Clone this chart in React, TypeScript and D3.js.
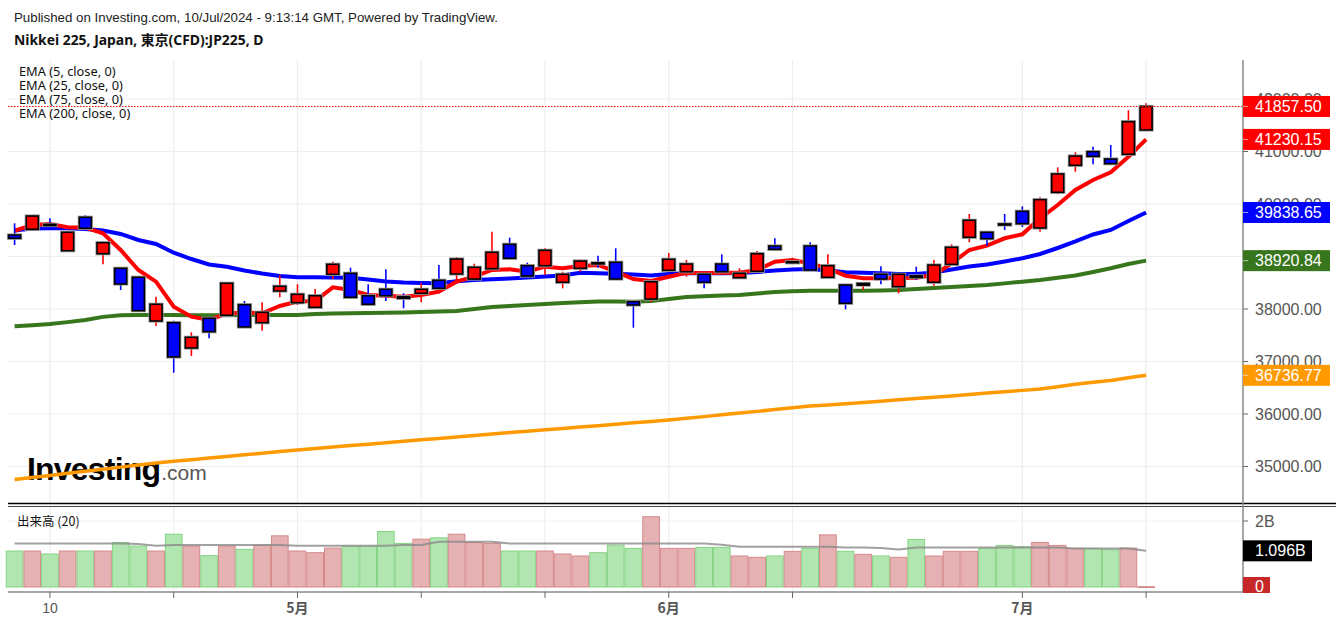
import React from 'react';
import * as d3 from 'd3';

// ---- data ----
const opens = [39410,39518,39612,39111,39747,39053,38775,38604,37771,37739,37257,37823,37880,38082,37739,38343,38120,38032,38661,38680,38253,38375,38234,38299,38547,38667,38571,38768,39232,38825,38825,38509,38775,38880,38890,38139,38190,38737,38710,38661,38857,38596,38718,39200,38880,39200,38604,38457,38455,38661,38425,38630,38509,38851,39366,39461,39620,39861,39543,40223,40737,40996,40857,40947,41410];
const highs = [39632,39785,39727,39486,39785,39276,38790,38610,38234,37777,37556,37853,38500,38152,38128,38642,38470,38381,38901,38787,38470,38756,38299,38490,38838,38985,38863,39473,39358,38882,39156,38710,38939,39015,39156,38145,38525,39067,38933,38665,39042,38775,39105,39347,38977,39271,39042,38460,38490,38813,38670,38806,38933,39232,39810,39465,39810,39956,40128,40699,40985,41091,41124,41785,41918];
const lows = [39219,39505,39537,39092,39486,38851,38362,37960,37676,36787,37105,37442,37875,37650,37587,38223,38076,38000,38571,38190,38085,38152,38013,38128,38390,38552,38565,38760,38960,38625,38648,38394,38710,38787,38565,37644,38128,38730,38615,38394,38705,38590,38712,39105,38870,38740,38600,37994,38362,38470,38299,38552,38444,38845,39271,39206,39505,39562,39473,40185,40615,40756,40760,40940,41400];
const closes = [39347,39771,39590,39461,39537,39263,38476,37968,38090,37086,37461,37568,38490,37657,37937,38432,38280,38253,38851,38223,38090,38253,38204,38375,38394,38952,38794,39080,38966,38629,39118,38661,38914,38860,38571,38076,38520,38947,38857,38509,38710,38680,39053,39137,38900,38743,38825,38109,38485,38571,38661,38600,38838,39175,39690,39339,39600,39625,40082,40572,40914,40908,40768,41568,41857.5];

const ema5 = [39491,39600,39619,39556,39549,39442,39124,38743,38520,38044,37853,37790,37918,37930,37918,38057,38143,38152,38413,38362,38267,38253,38234,38267,38330,38520,38615,38743,38756,38710,38806,38775,38819,38838,38710,38571,38533,38615,38691,38680,38691,38691,38743,38901,38933,38870,38775,38634,38585,38585,38590,38596,38648,38870,39124,39206,39347,39423,39728,39981,40267,40457,40604,40901,41230.15];
const ema25 = [39495,39533,39537,39537,39524,39495,39429,39314,39238,39072,38952,38848,38806,38733,38676,38629,38604,38604,38600,38596,38562,38524,38505,38495,38490,38530,38552,38566,38581,38600,38619,38638,38691,38682,38670,38657,38638,38667,38680,38680,38680,38686,38705,38733,38752,38762,38733,38701,38691,38680,38667,38667,38695,38752,38810,38848,38905,38966,39048,39162,39286,39419,39505,39676,39838.65];
const ema75 = [37670,37690,37714,37750,37790,37850,37880,37886,37886,37884,37882,37880,37882,37884,37884,37886,37888,37905,37912,37918,37924,37928,37933,37942,37952,37962,38000,38038,38056,38075,38095,38112,38128,38143,38143,38140,38150,38190,38229,38242,38255,38267,38295,38324,38340,38349,38349,38347,38349,38352,38360,38380,38400,38420,38440,38457,38488,38520,38552,38595,38638,38705,38775,38857,38920.84];
const ema200 = [34752,34790,34830,34870,34908,34948,34988,35027,35067,35098,35128,35160,35190,35222,35253,35284,35314,35342,35370,35398,35425,35452,35480,35508,35535,35562,35590,35619,35646,35672,35698,35725,35752,35778,35805,35832,35858,35886,35918,35950,35985,36018,36050,36085,36118,36152,36170,36195,36220,36245,36270,36295,36320,36345,36372,36398,36424,36450,36476,36520,36565,36605,36640,36690,36736.77];

// volume in billions
const volumes = [1.09,1.09,1.00,1.09,1.09,1.09,1.35,1.24,1.09,1.60,1.24,0.95,1.24,1.14,1.27,1.55,1.09,1.04,1.18,1.24,1.24,1.68,1.32,1.45,1.49,1.60,1.35,1.32,1.09,1.09,1.09,1.00,0.94,1.04,1.27,1.17,2.13,1.17,1.17,1.20,1.20,0.94,0.90,0.94,1.08,1.17,1.58,1.08,0.99,0.94,0.90,1.44,0.94,1.08,1.08,1.17,1.26,1.22,1.35,1.26,1.17,1.17,1.13,1.18,0.01];
const volSide = ['g','r','g','r','g','r','g','g','r','g','r','g','r','g','r','r','r','r','r','g','g','g','g','r','g','r','r','r','g','g','r','r','r','g','g','g','r','r','r','g','g','r','r','g','r','g','r','g','r','g','r','g','r','r','r','g','g','g','r','r','r','g','g','r','r'];
const volMA = [1.32,1.32,1.32,1.32,1.32,1.32,1.32,1.30,1.25,1.27,1.27,1.27,1.27,1.27,1.27,1.27,1.25,1.25,1.25,1.25,1.25,1.25,1.27,1.27,1.37,1.37,1.37,1.37,1.32,1.32,1.32,1.32,1.32,1.32,1.32,1.32,1.32,1.32,1.32,1.32,1.28,1.22,1.22,1.22,1.22,1.22,1.22,1.20,1.20,1.18,1.14,1.20,1.20,1.20,1.20,1.20,1.20,1.20,1.20,1.20,1.17,1.17,1.17,1.17,1.10];

const priceTicks = [35000,36000,37000,38000,39000,40000,41000,42000];
const xTickIdx = [2,9,16,23,30,37,44,57,64];
const xTickLabels = ['10','','5月','','','6月','','7月',''];
const legendItems = ['EMA (5, close, 0)','EMA (25, close, 0)','EMA (75, close, 0)','EMA (200, close, 0)'];

const COL = { up: '#ff0000', down: '#0000ff', e5: '#ff0000', e25: '#0000ff', e75: '#38761d', e200: '#ff9900' };

export default function App() {
  const W = 1336, H = 626;
  const left = 8, right = 1243;
  const mainTop = 60, mainBottom = 503;
  const volTop = 507, axisY = 592;
  const n = closes.length;
  const idx = d3.range(n);

  const x = d3.scaleLinear().domain([0, 64]).range([14.6, 1146.1]);
  const y = d3.scaleLinear().domain([35000, 42000]).range([466.5, 99]);
  const yv = d3.scaleLinear().domain([0, 2]).range([587, 521]);

  const lineGen = (arr: number[]) => d3.line<number>().x((_, i) => x(i)).y(d => y(d))(arr) || '';
  const volLine = d3.line<number>().x((_, i) => x(i)).y(d => yv(d))(volMA) || '';

  const bodyW = 12;
  const volW = x(1) - x(0) - 1;
  const font = "'Liberation Sans', Arial, sans-serif";

  const lastLabels = [
    { v: closes[n - 1], c: COL.up, t: '41857.50' },
    { v: ema5[n - 1], c: COL.e5, t: '41230.15' },
    { v: ema25[n - 1], c: COL.e25, t: '39838.65' },
    { v: ema75[n - 1], c: COL.e75, t: '38920.84' },
    { v: ema200[n - 1], c: COL.e200, t: '36736.77' },
  ];

  return (
    <svg width={W} height={H} style={{ position: 'absolute', left: 0, top: 0, background: '#fff' }} fontFamily={font}>
      <rect x={0} y={0} width={W} height={H} fill="#fff" />
      {/* header */}
      <text x={14} y={22} fontSize={13.3} fill="#222">Published on Investing.com, 10/Jul/2024 - 9:13:14 GMT, Powered by TradingView.</text>
      <text x={14} y={45} fontSize={13.9} fontWeight="bold" fill="#111" fontFamily="'Noto Sans', 'Noto Sans CJK JP', sans-serif">Nikkei 225, Japan, 東京(CFD):JP225, D</text>

      {/* grid */}
      {priceTicks.map(t => (
        <line key={'hg' + t} x1={left} x2={right} y1={y(t)} y2={y(t)} stroke="#eeeeee" strokeWidth={1.2} />
      ))}
      {xTickIdx.map(i => (
        <g key={'vg' + i}>
          <line x1={x(i)} x2={x(i)} y1={mainTop} y2={mainBottom} stroke="#eeeeee" strokeWidth={1.2} />
          <line x1={x(i)} x2={x(i)} y1={volTop} y2={axisY} stroke="#eeeeee" strokeWidth={1.2} />
        </g>
      ))}
      <line x1={left} x2={right} y1={yv(2)} y2={yv(2)} stroke="#f0f0f0" />

      {/* Investing logo */}
      <text x={27} y={480} fontSize={32} fontWeight="bold" fill="#000" letterSpacing={-0.8}>Investing<tspan fontSize={21} fontWeight="normal" fill="#555" letterSpacing={0} dx={1}>.com</tspan></text>

      {/* EMA lines */}
      <path d={lineGen(ema200)} fill="none" stroke={COL.e200} strokeWidth={3.5} />
      <path d={lineGen(ema75)} fill="none" stroke={COL.e75} strokeWidth={4} />
      <path d={lineGen(ema25)} fill="none" stroke={COL.e25} strokeWidth={4} />
      <path d={lineGen(ema5)} fill="none" stroke={COL.e5} strokeWidth={4} />

      {/* candles */}
      {idx.map(i => {
        const up = closes[i] >= opens[i];
        const c = up ? COL.up : COL.down;
        const top = y(Math.max(opens[i], closes[i]));
        const bot = y(Math.min(opens[i], closes[i]));
        const h = Math.max(bot - top, 1);
        return (
          <g key={'c' + i}>
            <line x1={x(i)} x2={x(i)} y1={y(highs[i])} y2={y(lows[i])} stroke={c} strokeWidth={1.6} />
            <rect x={x(i) - bodyW / 2 - 1} y={top - 1} width={bodyW + 2} height={h + 2} fill="none" stroke="#9a9a9a" strokeWidth={1.2} />
            <rect x={x(i) - bodyW / 2} y={top} width={bodyW} height={h} fill={c} stroke="#000" strokeWidth={1.6} />
          </g>
        );
      })}

      {/* last price dotted line */}
      <line x1={left} x2={right} y1={y(closes[n - 1])} y2={y(closes[n - 1])} stroke="#ff0000" strokeWidth={1} strokeDasharray="1.5,1.5" />

      {/* legend */}
      {legendItems.map((t, k) => (
        <text key={t} x={19} y={76 + k * 14} fontSize={12.8} fill="#111" fontFamily="'Noto Sans', sans-serif">{t}</text>
      ))}

      {/* panel separator */}
      <line x1={left} x2={W} y1={503.5} y2={503.5} stroke="#000" strokeWidth={1.5} />
      <line x1={left} x2={W} y1={506.5} y2={506.5} stroke="#444" strokeWidth={1} />

      {/* volume */}
      <text x={17} y={526} fontSize={12.5} fill="#111" fontFamily="'Noto Sans CJK JP', sans-serif">出来高 (20)</text>
      {idx.map(i => {
        const g = volSide[i] === 'g';
        return (
          <rect key={'v' + i} x={x(i) - volW / 2} y={yv(volumes[i])} width={volW} height={Math.max(yv(0) - yv(volumes[i]), 0.8)}
            fill={g ? '#b2e6b0' : '#e6b1b2'} stroke={g ? '#86d384' : '#d68a8b'} strokeWidth={1} />
        );
      })}
      <path d={volLine} fill="none" stroke="#8a8a8a" strokeOpacity={0.8} strokeWidth={2} />

      {/* x axis */}
      <line x1={left} x2={right} y1={axisY} y2={axisY} stroke="#888" strokeWidth={1.5} />
      {xTickIdx.map((i, k) => (
        <g key={'xt' + i}>
          <line x1={x(i)} x2={x(i)} y1={axisY} y2={axisY + 6} stroke="#666" strokeWidth={1} />
          {xTickLabels[k] && (
            <text x={x(i)} y={613} textAnchor="middle" fontSize={14} fill="#555"
              fontWeight={xTickLabels[k] === '10' ? 'normal' : 'bold'}
              fontFamily={xTickLabels[k] === '10' ? font : "'Noto Sans CJK JP', sans-serif"}>{xTickLabels[k]}</text>
          )}
        </g>
      ))}

      {/* right axis */}
      <line x1={right} x2={right} y1={mainTop} y2={axisY} stroke="#888" strokeWidth={1.5} />
      {priceTicks.map(t => (
        <g key={'pt' + t}>
          <line x1={right} x2={right + 5} y1={y(t)} y2={y(t)} stroke="#666" />
          <text x={1255} y={y(t) + 5.5} fontSize={16} fill="#555">{t.toFixed(2)}</text>
        </g>
      ))}
      {lastLabels.map(l => (
        <g key={l.t}>
          <rect x={right} y={y(l.v) - 10.5} width={87} height={21} fill={l.c} />
          <line x1={right} x2={right + 5} y1={y(l.v)} y2={y(l.v)} stroke="#fff" strokeOpacity={0.6} />
          <text x={1255} y={y(l.v) + 5.5} fontSize={16} fill="#fff">{l.t}</text>
        </g>
      ))}
      {/* volume axis */}
      <line x1={right} x2={right + 5} y1={yv(2)} y2={yv(2)} stroke="#666" />
      <text x={1255} y={yv(2) + 5.5} fontSize={16} fill="#555">2B</text>
      <rect x={right} y={yv(1.096) - 10.5} width={69} height={21} fill="#000" />
      <text x={1255} y={yv(1.096) + 5.5} fontSize={16} fill="#fff">1.096B</text>
      <rect x={right} y={yv(0) - 10} width={27} height={16} fill="#c62828" />
      <text x={1255} y={yv(0) + 5} fontSize={16} fill="#fff">0</text>
    </svg>
  );
}
